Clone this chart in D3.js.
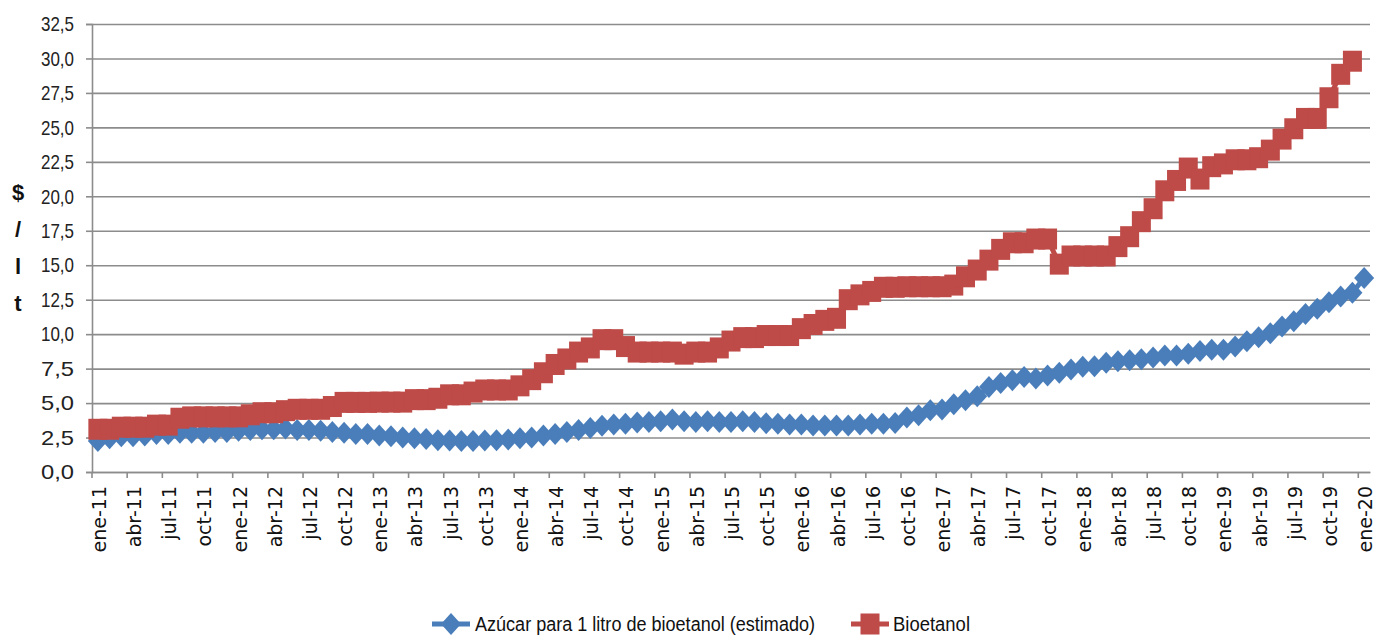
<!DOCTYPE html>
<html><head><meta charset="utf-8">
<script src="https://cdn.jsdelivr.net/npm/d3@7"></script>
<style>
body{margin:0;background:#fff;}
svg{display:block;}
</style></head><body>
<svg id="chart" width="1377" height="639"></svg>
<script>
// ---- data ----
const monthNames = ["ene","feb","mar","abr","may","jun","jul","ago","sep","oct","nov","dic"];
const years = ["11","12","13","14","15","16","17","18","19","20"];
const categories = [];
years.forEach(yr => monthNames.forEach(m => { if (categories.length < 109) categories.push(m + "-" + yr); }));

const azucar = [
  2.25, 2.45, 2.6, 2.6, 2.65, 2.75, 2.75, 2.85, 2.85, 2.85, 2.9, 2.9,
  3.0, 3.05, 3.1, 3.1, 3.15, 3.05, 3.05, 3.0, 2.9, 2.85, 2.75, 2.75,
  2.65, 2.6, 2.5, 2.45, 2.4, 2.3, 2.28, 2.25, 2.25, 2.28, 2.3, 2.35,
  2.45, 2.5, 2.65, 2.75, 2.9, 3.05, 3.2, 3.35, 3.45, 3.5, 3.6, 3.62,
  3.69, 3.8, 3.69, 3.62, 3.69, 3.62, 3.62, 3.69, 3.62, 3.54, 3.5, 3.45,
  3.45, 3.37, 3.37, 3.37, 3.37, 3.45, 3.5, 3.5, 3.55, 3.95, 4.12, 4.48,
  4.53, 4.92, 5.2, 5.5, 6.17, 6.46, 6.66, 6.9, 6.78, 7.0, 7.2, 7.43,
  7.63, 7.68, 7.92, 8.04, 8.1, 8.18, 8.3, 8.45, 8.45, 8.57, 8.77, 8.86,
  8.86, 9.1, 9.49, 9.78, 10.07, 10.55, 10.94, 11.47, 11.84, 12.32, 12.73, 13.0,
  14.08
];
const bioetanol = [
  3.1, 3.1, 3.25, 3.25, 3.25, 3.4, 3.4, 3.9, 4.0, 4.0, 4.0, 4.0,
  4.0, 4.15, 4.3, 4.3, 4.45, 4.55, 4.55, 4.55, 4.75, 5.05, 5.05, 5.05,
  5.07, 5.07, 5.07, 5.25, 5.25, 5.35, 5.6, 5.6, 5.8, 5.95, 5.95, 5.95,
  6.25, 6.7, 7.2, 7.8, 8.2, 8.7, 9.0, 9.6, 9.6, 9.1, 8.7, 8.7,
  8.7, 8.7, 8.55, 8.7, 8.7, 9.0, 9.5, 9.75, 9.75, 9.9, 9.9, 9.9,
  10.4, 10.7, 11.0, 11.15, 12.5, 12.85, 13.1, 13.4, 13.4, 13.44, 13.44, 13.44,
  13.44, 13.56, 14.16, 14.65, 15.37, 16.15, 16.63, 16.63, 16.9, 16.9, 15.08, 15.67,
  15.67, 15.67, 15.67, 16.35, 17.07, 18.16, 19.1, 20.4, 21.15, 22.05, 21.25, 22.15,
  22.35, 22.65, 22.65, 22.8, 23.35, 24.15, 24.9, 25.65, 25.65, 27.15, 28.85, 29.8
];
const yTickValues = [0, 2.5, 5, 7.5, 10, 12.5, 15, 17.5, 20, 22.5, 25, 27.5, 30, 32.5];
const xTickLabels = categories.filter((c, i) => i % 3 === 0);
const seriesNames = ["Azúcar para 1 litro de bioetanol (estimado)", "Bioetanol"];
const axisTitle = ["$", "/", "l", "t"];

// ---- styles ----
const blue = "#4a7ebb", red = "#be4b48", gridColor = "#8c8c8c";
const narrow = "'Liberation Sans Narrow','Arial Narrow','Liberation Sans',sans-serif";

const svg = d3.select("#chart");
const plot = {left: 92, right: 1370, top: 24, bottom: 472};

const x = d3.scaleBand().domain(categories).range([plot.left, plot.right]).padding(0);
const bw = x.bandwidth();
const cx = c => x(c) + bw / 2;
const y = d3.scaleLinear().domain([0, 32.5]).range([plot.bottom, plot.top]);

// gridlines
const grid = svg.append("g").attr("transform", `translate(${plot.left},0)`)
  .call(d3.axisLeft(y).tickValues(yTickValues).tickSize(-(plot.right - plot.left)).tickFormat(""));
grid.select(".domain").remove();
grid.selectAll("line").attr("stroke", gridColor).attr("stroke-width", 1.6);

// y axis
const yAxis = svg.append("g").attr("transform", `translate(${plot.left},0)`)
  .call(d3.axisLeft(y).tickValues(yTickValues).tickSize(6).tickPadding(12)
    .tickFormat(d => d3.format(".1f")(d).replace(".", ",")));
yAxis.select(".domain").attr("stroke", gridColor).attr("stroke-width", 1.6);
yAxis.selectAll(".tick line").attr("stroke", gridColor).attr("stroke-width", 1.6);
yAxis.selectAll(".tick text").attr("font-family", narrow).attr("font-size", 21).attr("fill", "#222")
  .attr("textLength", 33).attr("lengthAdjust", "spacingAndGlyphs");

// x axis
const xAxis = svg.append("g").attr("transform", `translate(0,${plot.bottom})`)
  .call(d3.axisBottom(x).tickValues(xTickLabels).tickSize(0).tickPadding(0));
xAxis.select(".domain").attr("stroke", gridColor).attr("stroke-width", 1.6);
xAxis.selectAll(".tick text")
  .attr("font-family", "'DejaVu Sans',sans-serif").attr("font-size", 19).attr("fill", "#111")
  .attr("text-anchor", "end").attr("dy", null).attr("y", 0)
  .attr("transform", "translate(1,14) rotate(-90)").attr("dominant-baseline", "central");
xAxis.selectAll(".tick").each(function(d) {
  d3.select(this).append("line")
    .attr("x1", -bw / 2).attr("x2", -bw / 2).attr("y1", 0).attr("y2", 6)
    .attr("stroke", gridColor).attr("stroke-width", 1.6);
});

// y axis title
svg.append("g").selectAll("text").data(axisTitle).join("text")
  .attr("x", 18).attr("y", (d, i) => 200 + i * 37)
  .attr("text-anchor", "middle").attr("font-family", narrow).attr("font-weight", "bold")
  .attr("font-size", 22).attr("fill", "#111").text(d => d);

// series
const line = d3.line().x((d, i) => cx(categories[i])).y(d => y(d));
const diamond = "M0,-11L10,0L0,11L-10,0Z";

function drawSeries(vals, color, kind) {
  const g = svg.append("g");
  g.append("path").datum(vals).attr("d", line).attr("fill", "none")
    .attr("stroke", color).attr("stroke-width", 5).attr("stroke-linejoin", "round");
  const m = g.selectAll(".m").data(vals).join(kind === "diamond" ? "path" : "rect");
  if (kind === "diamond") {
    m.attr("d", diamond).attr("transform", (d, i) => `translate(${cx(categories[i])},${y(d)})`)
      .attr("fill", color);
  } else {
    m.attr("x", (d, i) => cx(categories[i]) - 9.5).attr("y", d => y(d) - 10.5)
      .attr("width", 19).attr("height", 21).attr("fill", color);
  }
}
drawSeries(azucar, blue, "diamond");
drawSeries(bioetanol, red, "square");

// legend
const lg = svg.append("g").attr("font-family", narrow).attr("font-size", 20).attr("fill", "#111");
const ly = 624;
lg.append("line").attr("x1", 432).attr("x2", 470).attr("y1", ly).attr("y2", ly)
  .attr("stroke", blue).attr("stroke-width", 5);
lg.append("path").attr("d", diamond).attr("transform", `translate(451,${ly})`).attr("fill", blue);
lg.append("text").attr("x", 475).attr("y", ly).attr("dy", "0.35em")
  .attr("textLength", 340).attr("lengthAdjust", "spacingAndGlyphs").text(seriesNames[0]);
lg.append("line").attr("x1", 851).attr("x2", 889).attr("y1", ly).attr("y2", ly)
  .attr("stroke", red).attr("stroke-width", 5);
lg.append("rect").attr("x", 860.5).attr("y", ly - 10.5).attr("width", 19).attr("height", 21).attr("fill", red);
lg.append("text").attr("x", 893).attr("y", ly).attr("dy", "0.35em")
  .attr("textLength", 77).attr("lengthAdjust", "spacingAndGlyphs").text(seriesNames[1]);
</script>
</body></html>
